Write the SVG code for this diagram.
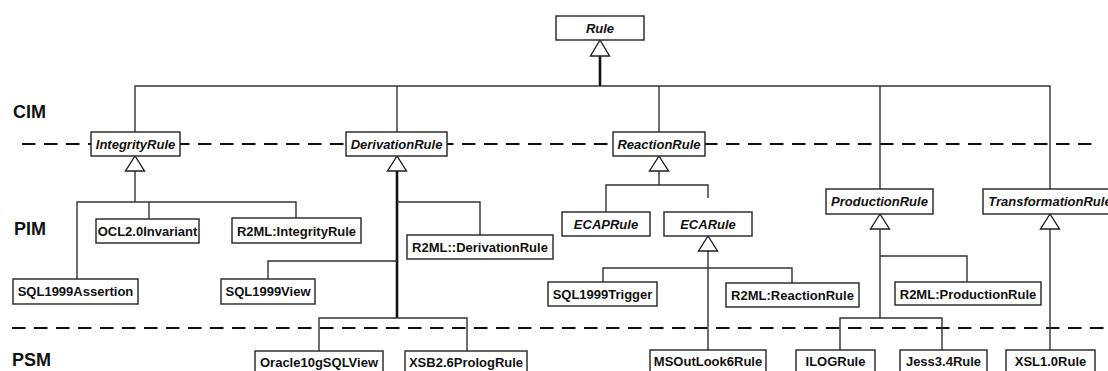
<svg xmlns="http://www.w3.org/2000/svg" width="1108" height="371" viewBox="0 0 1108 371">
<defs>
<style>
.bg{fill:#fff}
.box{fill:#fff;stroke:#222;stroke-width:1.4}
.t{font-family:"Liberation Sans",Arial,sans-serif;font-weight:bold;font-size:13px;fill:#111;text-anchor:middle}
.i{font-style:italic}
.lvl{font-family:"Liberation Sans",Arial,sans-serif;font-weight:bold;font-size:18px;fill:#111}
.dash{stroke:#111;stroke-width:2.2;stroke-dasharray:13.5 8.5;fill:none}
.c{stroke:#333;stroke-width:1.4;fill:none}
.thick{stroke:#111;stroke-width:2.6;fill:none}
.tri{fill:#fff;stroke:#222;stroke-width:1.4}
</style>
</defs>
<rect class="bg" x="0" y="0" width="1108" height="371"/>

<g id="levels">
<text class="lvl" x="13" y="118">CIM</text>
<text class="lvl" x="14" y="235">PIM</text>
<text class="lvl" x="12" y="366">PSM</text>
<line class="dash" x1="22" y1="144" x2="1100" y2="144"/>
<line class="dash" x1="12" y1="328" x2="1108" y2="328"/>
</g>

<g id="connectors">
<!-- Rule -->
<line class="thick" x1="600" y1="56" x2="600" y2="86"/>
<polyline class="c" points="135,132 135,86 1050,86 1050,189"/>
<line class="c" x1="397" y1="86" x2="397" y2="132"/>
<line class="c" x1="659" y1="86" x2="659" y2="132"/>
<line class="c" x1="880" y1="86" x2="880" y2="189"/>
<polygon class="tri" points="600,40 590.5,56 609.5,56"/>
<!-- IntegrityRule -->
<line class="c" x1="135" y1="171" x2="135" y2="202"/>
<polyline class="c" points="77,279 77,202 296,202 296,218"/>
<line class="c" x1="149" y1="202" x2="149" y2="219"/>
<polygon class="tri" points="135,156 125.5,171 144.5,171"/>
<!-- DerivationRule -->
<line class="thick" x1="397" y1="171" x2="397" y2="318"/>
<polyline class="c" points="397,202 480,202 480,235"/>
<polyline class="c" points="397,261 268,261 268,279"/>
<polyline class="c" points="319,351 319,318 467,318 467,351"/>
<polygon class="tri" points="397,156 387.5,171 406.5,171"/>
<!-- ReactionRule -->
<line class="c" x1="659" y1="171" x2="659" y2="185"/>
<polyline class="c" points="606,212 606,185 708,185 708,198"/>
<polygon class="tri" points="659,156 649.5,171 668.5,171"/>
<!-- ECARule -->
<line class="c" x1="708" y1="251" x2="708" y2="350"/>
<polyline class="c" points="603,282 603,268 792,268 792,283"/>
<polygon class="tri" points="708,236 698.5,251 717.5,251"/>
<!-- ProductionRule -->
<line class="c" x1="880" y1="229" x2="880" y2="318"/>
<polyline class="c" points="880,256 967,256 967,282"/>
<polyline class="c" points="840,350 840,318 942,318 942,350"/>
<polygon class="tri" points="880,214 870.5,229 889.5,229"/>
<!-- TransformationRule -->
<line class="c" x1="1050" y1="229" x2="1050" y2="350"/>
<polygon class="tri" points="1050,214 1040.5,229 1059.5,229"/>
</g>

<g id="Rule"><rect class="box" x="556" y="16" width="88" height="24"/><text class="t i" x="600" y="33">Rule</text></g>
<g id="IntegrityRule"><rect class="box" x="91" y="132" width="89" height="24"/><text class="t i" x="135.5" y="149">IntegrityRule</text></g>
<g id="DerivationRule"><rect class="box" x="346" y="132" width="101" height="24"/><text class="t i" x="396.5" y="149">DerivationRule</text></g>
<g id="ReactionRule"><rect class="box" x="613" y="132" width="92" height="24"/><text class="t i" x="659" y="149">ReactionRule</text></g>
<g id="ProductionRule"><rect class="box" x="826" y="189" width="107" height="25"/><text class="t i" x="879.5" y="206">ProductionRule</text></g>
<g id="TransformationRule"><rect class="box" x="983" y="189" width="134" height="25"/><text class="t i" x="1050" y="206">TransformationRule</text></g>

<g id="OCL2.0Invariant"><rect class="box" x="96" y="219" width="103" height="24"/><text class="t" x="147.5" y="236">OCL2.0Invariant</text></g>
<g id="R2ML-IntegrityRule"><rect class="box" x="232" y="218" width="129" height="25"/><text class="t" x="296.5" y="235.5">R2ML:IntegrityRule</text></g>
<g id="SQL1999Assertion"><rect class="box" x="13" y="279" width="125" height="25"/><text class="t" x="75.5" y="296">SQL1999Assertion</text></g>
<g id="SQL1999View"><rect class="box" x="221" y="279" width="94" height="25"/><text class="t" x="268" y="296">SQL1999View</text></g>
<g id="R2ML-DerivationRule"><rect class="box" x="407" y="235" width="146" height="24"/><text class="t" x="480" y="252">R2ML::DerivationRule</text></g>
<g id="ECAPRule"><rect class="box" x="562" y="212" width="88" height="24"/><text class="t i" x="606" y="229">ECAPRule</text></g>
<g id="ECARule"><rect class="box" x="664" y="212" width="88" height="24"/><text class="t i" x="708" y="229">ECARule</text></g>
<g id="SQL1999Trigger"><rect class="box" x="548" y="282" width="109" height="24"/><text class="t" x="602.5" y="299">SQL1999Trigger</text></g>
<g id="R2ML-ReactionRule"><rect class="box" x="726" y="283" width="133" height="24"/><text class="t" x="792.5" y="300">R2ML:ReactionRule</text></g>
<g id="R2ML-ProductionRule"><rect class="box" x="895" y="282" width="146" height="23"/><text class="t" x="968" y="298.5">R2ML:ProductionRule</text></g>

<g id="Oracle10gSQLView"><rect class="box" x="255" y="351" width="128" height="25"/><text class="t" x="319" y="367">Oracle10gSQLView</text></g>
<g id="XSB2.6PrologRule"><rect class="box" x="405" y="351" width="122" height="25"/><text class="t" x="466" y="367">XSB2.6PrologRule</text></g>
<g id="MSOutLook6Rule"><rect class="box" x="650" y="350" width="116" height="25"/><text class="t" x="708" y="366">MSOutLook6Rule</text></g>
<g id="ILOGRule"><rect class="box" x="796" y="350" width="79" height="25"/><text class="t" x="835.5" y="366">ILOGRule</text></g>
<g id="Jess3.4Rule"><rect class="box" x="900" y="350" width="87" height="25"/><text class="t" x="943.5" y="366">Jess3.4Rule</text></g>
<g id="XSL1.0Rule"><rect class="box" x="1006" y="350" width="89" height="25"/><text class="t" x="1050.5" y="366">XSL1.0Rule</text></g>
</svg>
